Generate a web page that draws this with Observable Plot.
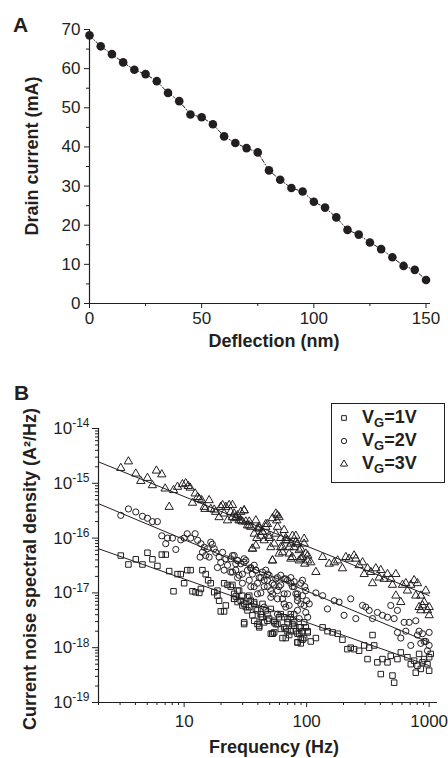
<!DOCTYPE html>
<html>
<head>
<meta charset="utf-8">
<script src="https://cdn.jsdelivr.net/npm/d3@7"></script>
<script src="https://cdn.jsdelivr.net/npm/@observablehq/plot@0.6"></script>
<style>
  html, body { margin: 0; padding: 0; background: #fff; }
  #wrap { position: relative; width: 448px; height: 758px; overflow: hidden;
          font-family: "Liberation Sans", Arial, sans-serif; color: #231f20; background: #fff; }
  #wrap > svg { position: absolute; left: 0; }
  .letter { position: absolute; font-weight: bold; font-size: 21px; line-height: 21px; }
  #legend { position: absolute; left: 331px; top: 403px; width: 114px; height: 80px;
            box-sizing: border-box; border: 1px solid #231f20; background: #fff; }
  #legend .sym { position: absolute; left: 6px; width: 12px; height: 12px; }
  #legend .lab { position: absolute; left: 30px; font-weight: bold; font-size: 18px; line-height: 18px; white-space: nowrap; }
  #legend .lab sub { font-size: 13px; vertical-align: -4px; line-height: 0; }
</style>
</head>
<body>
<div id="wrap">
  <div class="letter" style="left:13px;top:14px;">A</div>
  <div class="letter" style="left:14px;top:382px;">B</div>
</div>
<script>
// ---------- Panel A data ----------
const deflection = [0, 5, 10, 15, 20, 25, 30, 35, 40, 45, 50, 55, 60, 65, 70, 75, 80, 85, 90, 95, 100, 105, 110, 115, 120, 125, 130, 135, 140, 145, 150];
const drainCurrent = [68.5, 65.7, 63.7, 61.6, 59.7, 58.6, 56.8, 53.8, 51.7, 48.3, 47.6, 45.8, 42.7, 41.0, 39.7, 38.6, 34.0, 31.6, 29.5, 28.6, 26.0, 24.5, 22.0, 18.8, 17.6, 15.6, 13.9, 11.8, 9.6, 8.6, 6.0];
const xTicksA = [0, 50, 100, 150];
const xMinorA = [25, 75, 125];
const yTicksA = [0, 10, 20, 30, 40, 50, 60, 70];
const yMinorA = [5, 15, 25, 35, 45, 55, 65];

// ---------- Panel B data ----------
const seriesNames = ["VG=1V", "VG=2V", "VG=3V"];
const freq1 = [3.04,3.51,4.03,4.57,5.02,5.51,6.05,6.57,7.08,7.55,8.19,8.83,9.39,10,10.6,11.3,11.7,12.4,13.3,13.7,14.1,15.0,15.7,16.5,17.6,18.7,19.3,19.9,21.2,21.9,21.2,22.6,24.0,25.6,26.4,25.6,28.1,29.0,29.9,30.9,32.9,34.0,35.0,36.1,37.3,38.5,39.7,41.0,42.3,45.0,46.4,47.9,49.4,51.0,52.6,54.3,56.0,59.6,63.5,65.5,67.6,69.8,72.0,74.3,79.1,81.6,84.2,86.9,89.6,92.5,95.4,98.4,102,92.5,
  119,135,148,163,179,196,215,229,244,268,295,324,314,345,356,378,403,416,457,486,502,518,551,587,665,708,754,803,828,910,969,1000,778,855,1030,1000,882,
  61.5,76.6,86.9,69.8,43.6,31.9,27.3,18.7,37.3,54.3,89.6,
  24.8,27.3,25.6,29.9,32.9,30.9,34.0,37.3,39.7,43.6,42.3,47.9,51.0,54.3,57.8,61.5,65.5,69.8,74.3,79.1,84.2,89.6,95.4,102,108,30.9,41.0,52.6,67.6,84.2];
const psd1 = [4.8e-17,3.3e-17,4.1e-17,3.3e-17,5.4e-17,4.1e-17,3.1e-17,5.0e-17,5.0e-17,2.5e-17,1.07e-17,2.2e-17,2.2e-17,1.5e-17,2.6e-17,2.6e-17,1.07e-17,1.03e-17,1.0e-17,1.18e-17,2.6e-17,2.2e-17,1.7e-17,1.5e-17,1.03e-17,8.9e-18,7.2e-18,4.6e-18,4.6e-18,5.9e-18,1.5e-17,1.4e-17,1.3e-17,9.6e-18,8.6e-18,7.8e-18,1.1e-17,7.2e-18,5.9e-18,2.9e-18,4.8e-18,8.9e-18,7.2e-18,3.9e-18,3.1e-18,5.1e-18,2.7e-18,2.35e-18,4.1e-18,2.9e-18,4.8e-18,3.1e-18,3.4e-18,1.8e-18,1.8e-18,1.9e-18,2.7e-18,3.6e-18,1.5e-18,3.6e-18,2.2e-18,2.9e-18,1.7e-18,4.1e-18,2.5e-18,2.0e-18,1.25e-18,1.8e-18,1.5e-18,2.0e-18,2.9e-18,2.35e-18,1.9e-18,1.4e-18,
  1.5e-18,2.35e-18,2.0e-18,1.9e-18,1.8e-18,1.4e-18,9.4e-19,1.0e-18,9.4e-19,8.8e-19,1.1e-18,1.0e-18,6.2e-19,1.7e-18,1.1e-18,5.4e-19,3.3e-19,6.2e-19,5.4e-19,7.1e-19,3.1e-19,2.3e-19,6.2e-19,8.2e-19,6.7e-19,5.0e-19,5.8e-19,4.7e-19,7.7e-19,6.2e-19,5.0e-19,3.8e-19,3.5e-19,4.1e-19,7.7e-19,6.7e-19,5.4e-19,
  2.2e-18,2.7e-18,2.35e-18,2.0e-18,3.6e-18,5.5e-18,6.8e-18,1.1e-17,6.3e-18,2.9e-18,1.2e-18,
  1.4e-17,1.1e-17,7.8e-18,8.9e-18,8.3e-18,6.3e-18,5.5e-18,6.8e-18,4.8e-18,6.3e-18,3.6e-18,4.1e-18,5.1e-18,3.1e-18,2.7e-18,4.1e-18,2.35e-18,3.35e-18,2.0e-18,2.9e-18,1.8e-18,2.35e-18,1.5e-18,2.0e-18,1.3e-18,2.7e-18,2.5e-18,1.8e-18,1.5e-18,1.25e-18];

const freq2 = [3.04,3.51,4.03,4.57,5.02,5.51,6.05,6.57,7.08,7.31,8.03,8.55,9.39,10,10.6,11.3,12.3,12.9,13.7,14.1,13.5,14.6,15.0,15.5,16.0,16.5,17.0,17.6,18.1,18.7,19.3,19.9,20.6,21.2,21.9,22.6,24.0,24.8,25.6,26.4,27.3,28.1,29.0,29.9,30.9,31.9,32.9,34.0,35.0,36.1,37.3,38.5,39.7,41.0,42.3,43.6,45.0,46.4,47.9,49.4,51.0,52.6,54.3,56.0,57.8,59.6,61.5,63.5,65.5,67.6,69.8,72.0,74.3,76.6,79.1,81.6,84.2,86.9,89.6,92.5,95.4,96.6,98.4,100,
  119,135,148,168,184,202,229,252,286,304,324,345,378,416,457,486,518,551,551,587,625,645,687,708,778,803,828,855,882,939,969,1000,1000,910,
  37.3,47.9,65.5,84.2,69.8,79.1,27.3,24.0,57.8,89.6,
  24.8,27.3,30.9,26.4,29.9,35.0,38.5,42.3,45.0,47.9,52.6,57.8,61.5,67.6,74.3,79.1,84.2,92.5,98.4,105,35.0,39.7,51.0,65.5,84.2,102,45.0,57.8,74.3];
const psd2 = [2.6e-16,3.4e-16,3.0e-16,2.5e-16,2.3e-16,2.0e-16,2.0e-16,1.1e-16,7.9e-17,1.0e-16,1.0e-16,6.2e-17,9.3e-17,1.0e-16,1.2e-16,1.0e-16,1.2e-16,9.1e-17,7.9e-17,5.5e-17,4.5e-17,6.8e-17,4.8e-17,6.4e-17,4.5e-17,8.4e-17,7.7e-17,6.4e-17,5.5e-17,2.9e-17,4.5e-17,3.6e-17,5.5e-17,2.6e-17,4.2e-17,3.2e-17,4.2e-17,2.4e-17,4.8e-17,3.4e-17,3.9e-17,2.1e-17,3.4e-17,1.5e-17,3.6e-17,3.9e-17,2.6e-17,1.7e-17,2.8e-17,2.2e-17,3.2e-17,2.6e-17,1.5e-17,1.9e-17,1.0e-17,2.4e-17,1.3e-17,2.6e-17,1.7e-17,2.1e-17,1.1e-17,9.6e-18,1.4e-17,1.8e-17,1.1e-17,1.3e-17,2.1e-17,7.8e-18,1.8e-17,5.5e-18,9.6e-18,5.9e-18,1.5e-17,1.3e-17,4.1e-18,9.6e-18,7.2e-18,3.4e-18,1.5e-17,8.9e-18,5.9e-18,1.3e-17,4.4e-18,7.2e-18,
  1.0e-17,8.9e-18,5.1e-18,7.2e-18,6.8e-18,3.9e-18,7.8e-18,3.4e-18,5.9e-18,5.5e-18,4.8e-18,3.4e-18,4.4e-18,3.9e-18,3.6e-18,5.9e-18,3.4e-18,4.8e-18,1.9e-18,1.5e-18,2.9e-18,2.0e-18,2.9e-18,1.1e-18,3.1e-18,1.7e-18,2.0e-18,1.2e-18,1.8e-18,1.3e-18,8.8e-19,1.9e-18,1.1e-18,1.3e-18,
  1.3e-17,1.3e-17,9.6e-18,8.3e-18,1.7e-17,1.6e-17,1.9e-17,2.4e-17,7.8e-18,6.3e-18,
  4.8e-17,3.9e-17,4.2e-17,2.6e-17,2.2e-17,2.9e-17,2.6e-17,1.9e-17,1.7e-17,2.2e-17,1.5e-17,1.9e-17,1.4e-17,1.8e-17,1.9e-17,1.3e-17,9.6e-18,1.7e-17,1.1e-17,6.3e-18,1.3e-17,9.6e-18,8.3e-18,6.3e-18,4.8e-18,3.6e-18,5.5e-18,4.1e-18,3.6e-18];

const freq3 = [3.04,3.51,4.03,4.43,5.02,5.51,5.94,6.57,7.0,7.55,8.19,8.83,9.69,10.3,10.8,11.2,11.7,12.3,12.9,13.3,13.9,14.6,14.8,16.0,16.5,17.6,18.1,19.3,19.9,20.6,21.2,21.9,22.6,23.3,24.0,24.8,25.6,26.4,27.3,28.1,29.0,29.9,30.9,31.9,32.9,34.0,35.0,36.1,37.3,38.5,39.2,39.7,41.0,42.3,43.6,45.0,46.4,47.9,49.4,51.0,52.6,54.3,56.0,57.0,57.8,59.6,61.5,63.5,65.5,67.6,69.8,72.0,74.3,76.6,79.1,81.6,84.2,86.9,89.6,92.5,95.4,96.6,98.4,102,
  119,135,153,168,179,196,209,222,244,252,268,286,295,314,334,345,367,391,403,429,457,486,502,535,535,587,606,645,665,708,754,778,803,828,855,882,910,939,969,1000,1000,855,
  24.8,26.4,29.0,30.9,34.0,36.1,38.5,41.0,43.6,46.4,49.4,52.6,56.0,57.8,61.5,63.5,67.6,72.0,76.6,81.6,86.9,89.6,95.4,102,108,52.6,59.6,74.3];
const psd3 = [1.9e-15,2.5e-15,1.5e-15,1.1e-15,1.25e-15,9.2e-16,1.7e-15,1.45e-15,8.0e-16,3.7e-16,7.5e-16,8.6e-16,9.6e-16,1.0e-15,8.9e-16,8.3e-16,4.4e-16,6.5e-16,5.6e-16,5.2e-16,4.9e-16,3.7e-16,3.4e-16,4.9e-16,3.4e-16,3.3e-16,3.0e-16,2.4e-16,3.7e-16,4.0e-16,2.8e-16,3.7e-16,2.1e-16,4.0e-16,3.0e-16,2.4e-16,2.8e-16,2.3e-16,2.6e-16,2.1e-16,3.0e-16,2.0e-16,3.2e-16,2.0e-16,1.7e-16,2.0e-16,1.6e-16,6.4e-17,1.2e-16,2.1e-16,1.0e-16,1.5e-16,1.5e-16,1.1e-16,1.3e-16,9.1e-17,1.6e-16,1.8e-16,1.0e-16,6.8e-17,3.9e-17,7.9e-17,1.2e-16,2.1e-16,2.6e-16,2.4e-16,6.8e-17,5.5e-17,1.4e-16,1.0e-16,9.1e-17,6.8e-17,7.9e-17,4.5e-17,6.8e-17,1.1e-16,7.9e-17,3.9e-17,6.4e-17,4.5e-17,9.7e-17,3.4e-17,5.2e-17,3.9e-17,
  2.4e-17,4.5e-17,3.4e-17,3.6e-17,3.9e-17,2.8e-17,4.5e-17,4.2e-17,4.8e-17,4.2e-17,3.2e-17,3.6e-17,2.2e-17,2.8e-17,2.4e-17,1.5e-17,2.8e-17,1.9e-17,2.6e-17,1.8e-17,2.2e-17,1.8e-17,1.4e-17,2.2e-17,8.9e-18,6.8e-18,1.4e-17,1.5e-17,1.1e-17,1.4e-17,1.7e-17,8.9e-18,1.5e-17,5.5e-18,8.9e-18,5.9e-18,6.8e-18,1.1e-17,4.8e-18,3.9e-18,5.5e-18,4.8e-18,
  4.0e-16,2.4e-16,2.1e-16,3.2e-16,1.7e-16,6.4e-17,7.3e-17,1.6e-16,1.3e-16,1.8e-16,1.1e-16,2.3e-16,2.8e-16,1.6e-16,1.0e-16,6.8e-17,9.1e-17,5.2e-17,1.1e-16,8.4e-17,6.0e-17,4.2e-17,7.9e-17,4.8e-17,3.6e-17,3.9e-17,5.2e-17,4.2e-17];

// fitted 1/f lines (endpoints)
const fitFreq = [2, 1000];
const fit1 = [6.4e-17, 4.7e-19];
const fit2 = [4.25e-16, 1.25e-18];
const fit3 = [2.46e-15, 8.9e-18];

const xTicksB = [10, 100, 1000];
const xMinorB = [2,3,4,5,6,7,8,9,20,30,40,50,60,70,80,90,200,300,400,500,600,700,800,900];
const yTicksB = [1e-19, 1e-18, 1e-17, 1e-16, 1e-15, 1e-14];
const yMinorB = [2e-19,3e-19,4e-19,5e-19,6e-19,7e-19,8e-19,9e-19,2e-18,3e-18,4e-18,5e-18,6e-18,7e-18,8e-18,9e-18,2e-17,3e-17,4e-17,5e-17,6e-17,7e-17,8e-17,9e-17,2e-16,3e-16,4e-16,5e-16,6e-16,7e-16,8e-16,9e-16,2e-15,3e-15,4e-15,5e-15,6e-15,7e-15,8e-15,9e-15];

const ink = "#231f20";
const font = '"Liberation Sans", Arial, sans-serif';

// ---------- Panel A ----------
const tableA = deflection.map((x, i) => ({x, y: drainCurrent[i]}));
const plotA = Plot.plot({
  width: 448, height: 360,
  marginTop: 29, marginBottom: 57, marginLeft: 89, marginRight: 18,
  style: {fontFamily: font, fontSize: "17px", color: ink, background: "transparent", overflow: "visible"},
  x: {domain: [0, 152]},
  y: {domain: [0, 70]},
  marks: [
    Plot.ruleX([0], {stroke: ink, strokeWidth: 1.2}),
    Plot.ruleY([0], {stroke: ink, strokeWidth: 1.2}),
    Plot.axisX({ticks: xTicksA, tickSize: 5, tickPadding: 3, label: "Deflection (nm)", labelAnchor: "center", labelArrow: "none"}),
    Plot.axisX({ticks: xMinorA, tickSize: 3, tickFormat: () => "", label: null}),
    Plot.axisY({ticks: yTicksA, tickSize: 5, tickPadding: 4, label: "Drain current (mA)", labelAnchor: "center", labelArrow: "none"}),
    Plot.axisY({ticks: yMinorA, tickSize: 3, tickFormat: () => "", label: null}),
    Plot.line(tableA, {x: "x", y: "y", stroke: ink, strokeWidth: 1, strokeDasharray: "4 2 1 2"}),
    Plot.dot(tableA, {x: "x", y: "y", r: 4.3, fill: ink, stroke: "none"})
  ]
});
plotA.style.top = "0px";

// ---------- Panel B ----------
const tableB = [
  ...freq1.map((f, i) => ({f, p: psd1[i], s: seriesNames[0]})),
  ...freq2.map((f, i) => ({f, p: psd2[i], s: seriesNames[1]})),
  ...freq3.map((f, i) => ({f, p: psd3[i], s: seriesNames[2]}))
];
const fitTable = [
  ...fitFreq.map((f, i) => ({f, p: fit1[i], s: seriesNames[0]})),
  ...fitFreq.map((f, i) => ({f, p: fit2[i], s: seriesNames[1]})),
  ...fitFreq.map((f, i) => ({f, p: fit3[i], s: seriesNames[2]}))
];
const symbolOf = {"VG=1V": "square", "VG=2V": "circle", "VG=3V": "triangle"};

const plotB = Plot.plot({
  width: 448, height: 398,
  marginTop: 68, marginBottom: 56, marginLeft: 98, marginRight: 11,
  style: {fontFamily: font, fontSize: "17px", color: ink, background: "transparent", overflow: "visible"},
  x: {type: "log", domain: [2, 1170]},
  y: {type: "log", domain: [1e-19, 1e-14]},
  symbol: {domain: seriesNames, range: ["square", "circle", "triangle"]},
  marks: [
    Plot.ruleX([2], {stroke: ink, strokeWidth: 1.2}),
    Plot.ruleY([1e-19], {stroke: ink, strokeWidth: 1.2}),
    Plot.axisX({ticks: xTicksB, tickSize: 5, tickPadding: 7, tickFormat: d => String(d), label: "Frequency (Hz)", labelAnchor: "center", labelArrow: "none"}),
    Plot.axisX({ticks: xMinorB, tickSize: 3, tickFormat: () => "", label: null}),
    Plot.axisY({ticks: yTicksB, tickSize: 6, tickPadding: 3, tickFormat: d => "10^" + Math.round(Math.log10(d)), label: "Current noise spectral density (A²/Hz)", labelAnchor: "center", labelArrow: "none"}),
    Plot.axisY({ticks: yMinorB, tickSize: 3, tickFormat: () => "", label: null}),
    Plot.line(fitTable, {x: "f", y: "p", z: "s", stroke: ink, strokeWidth: 1}),
    Plot.dot(tableB, {x: "f", y: "p", symbol: "s", r: 3.1, stroke: ink, strokeWidth: 1, fill: "none"})
  ]
});
plotB.style.top = "360px";

const wrap = document.getElementById("wrap");
wrap.appendChild(plotA);
wrap.appendChild(plotB);

// bold axis titles
for (const svg of [plotA, plotB]) {
  d3.select(svg).selectAll('g[aria-label$="axis label"] text')
    .style("font-weight", "bold").style("font-size", "18px");
}
// superscript exponents on log tick labels
d3.select(plotB).selectAll('g[aria-label="y-axis tick label"] text').each(function () {
  const t = this.textContent;
  if (!t || t.indexOf("^") < 0) return;
  const e = t.split("^")[1];
  this.textContent = "10";
  d3.select(this).append("tspan").attr("dy", "-0.55em").attr("font-size", "12px").text(e);
});

// place axis titles where the reference has them (centre in page pixels)
function placeTitle(svg, which, cx, cy) {
  const g = svg.querySelector(`g[aria-label="${which}-axis label"]`);
  if (!g) return;
  const wr = wrap.getBoundingClientRect();
  const r = g.getBoundingClientRect();
  const dx = cx - (r.left - wr.left + r.width / 2);
  const dy = cy - (r.top - wr.top + r.height / 2);
  const t = g.getAttribute("transform") || "";
  g.setAttribute("transform", `translate(${dx},${dy}) ${t}`);
}
placeTitle(plotA, "x", 274, 341);
placeTitle(plotA, "y", 32, 156);
placeTitle(plotB, "x", 274, 747);
placeTitle(plotB, "y", 30, 569);

// legend
const legend = document.createElement("div");
legend.id = "legend";
const rowsY = [14, 37, 60];
seriesNames.forEach((name, i) => {
  const s = d3.create("svg").attr("class", "sym").attr("width", 12).attr("height", 12)
    .style("top", (rowsY[i] - 6) + "px");
  const sym = {square: d3.symbolSquare, circle: d3.symbolCircle, triangle: d3.symbolTriangle}[symbolOf[name]];
  s.append("path").attr("transform", "translate(6,6)")
    .attr("d", d3.symbol(sym, 22)())
    .attr("fill", "none").attr("stroke", ink).attr("stroke-width", 1);
  legend.appendChild(s.node());
  const lab = document.createElement("div");
  lab.className = "lab";
  lab.style.top = (rowsY[i] - 10) + "px";
  const v = name.split("=")[1];
  lab.innerHTML = "V<sub>G</sub>=" + v;
  legend.appendChild(lab);
});
wrap.appendChild(legend);
</script>
</body>
</html>
